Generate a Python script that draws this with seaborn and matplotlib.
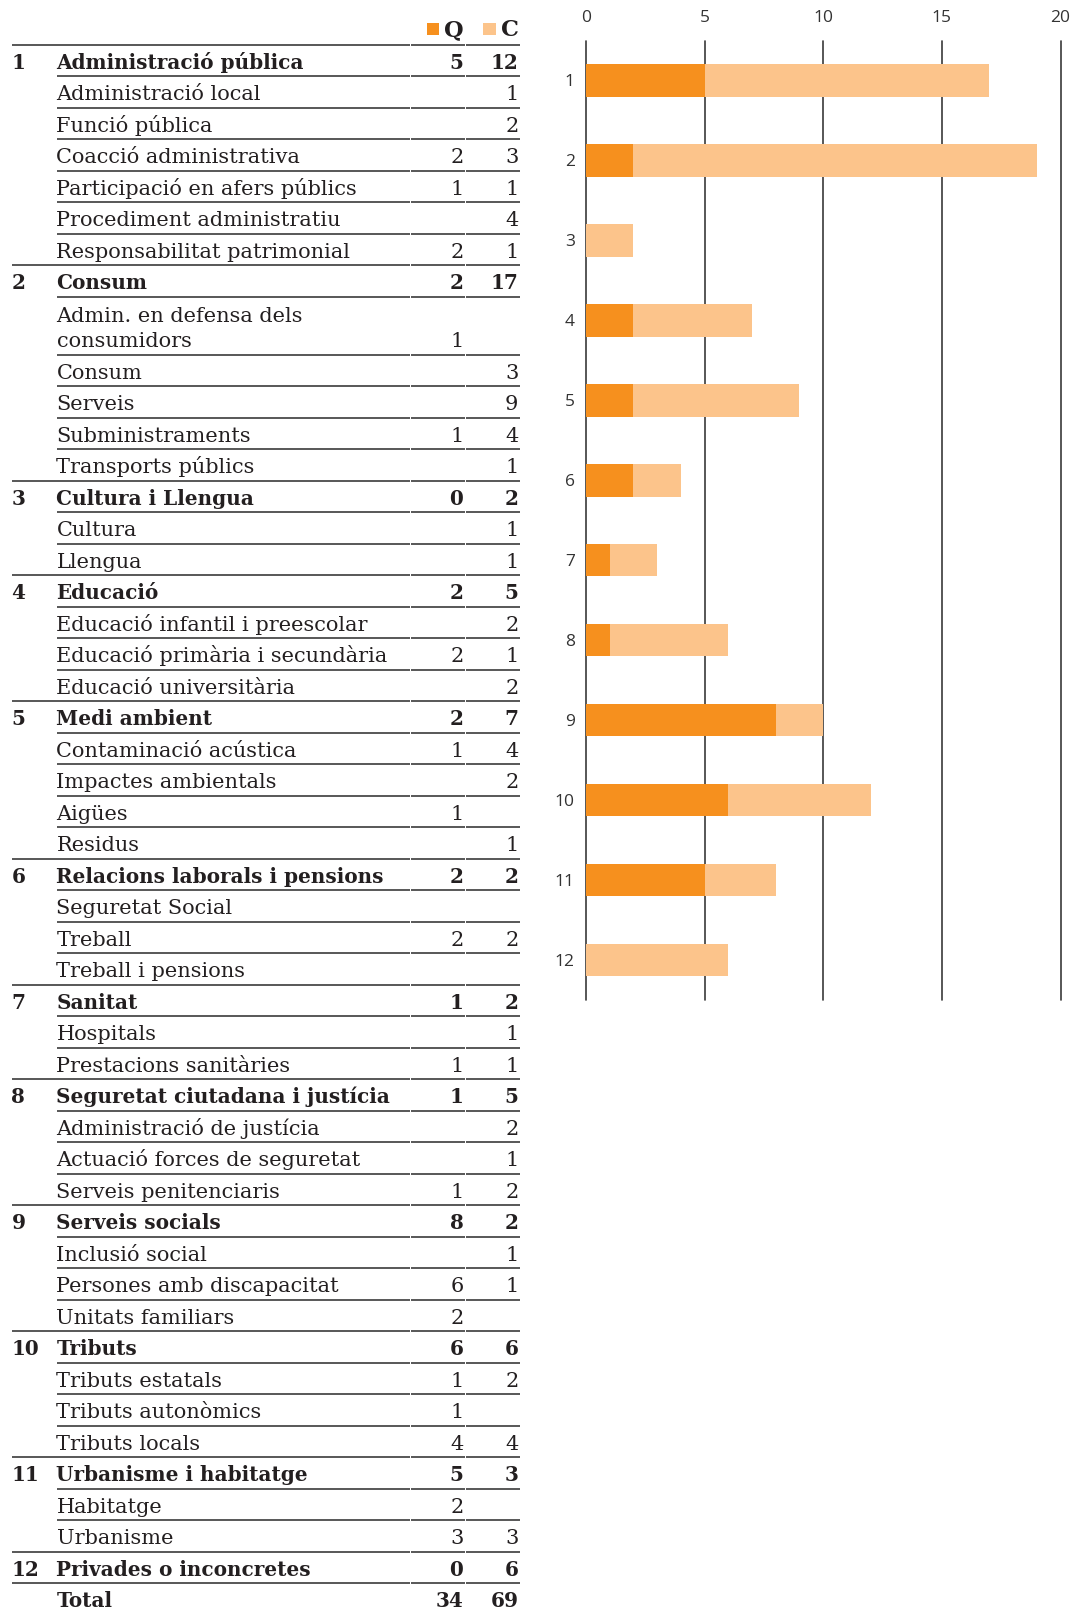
import matplotlib
matplotlib.use("Agg")
import matplotlib.pyplot as plt
from matplotlib.patches import Rectangle
import seaborn as sns
import pandas as pd

# ---- chart data: complaints (Q) and consultations (C) per subject group ----
categories = [str(i) for i in range(1, 13)]
q_vals = [5, 2, 0, 2, 2, 2, 1, 1, 8, 6, 5, 0]
c_vals = [12, 17, 2, 5, 7, 2, 2, 5, 2, 6, 3, 6]
x_ticks = [0, 5, 10, 15, 20]

# ---- table data ----
group_labels = [
    "Administració pública", "Consum", "Cultura i Llengua", "Educació",
    "Medi ambient", "Relacions laborals i pensions", "Sanitat",
    "Seguretat ciutadana i justícia", "Serveis socials", "Tributs",
    "Urbanisme i habitatge", "Privades o inconcretes",
]
sub_labels = [
    ["Administració local", "Funció pública", "Coacció administrativa",
     "Participació en afers públics", "Procediment administratiu",
     "Responsabilitat patrimonial"],
    ["Admin. en defensa dels\nconsumidors", "Consum", "Serveis",
     "Subministraments", "Transports públics"],
    ["Cultura", "Llengua"],
    ["Educació infantil i preescolar", "Educació primària i secundària",
     "Educació universitària"],
    ["Contaminació acústica", "Impactes ambientals", "Aigües", "Residus"],
    ["Seguretat Social", "Treball", "Treball i pensions"],
    ["Hospitals", "Prestacions sanitàries"],
    ["Administració de justícia", "Actuació forces de seguretat",
     "Serveis penitenciaris"],
    ["Inclusió social", "Persones amb discapacitat", "Unitats familiars"],
    ["Tributs estatals", "Tributs autonòmics", "Tributs locals"],
    ["Habitatge", "Urbanisme"],
    [],
]
sub_q = [
    [None, None, 2, 1, None, 2],
    [1, None, None, 1, None],
    [None, None],
    [None, 2, None],
    [1, None, 1, None],
    [None, 2, None],
    [None, 1],
    [None, None, 1],
    [None, 6, 2],
    [1, 1, 4],
    [2, 3],
    [],
]
sub_c = [
    [1, 2, 3, 1, 4, 1],
    [None, 3, 9, 4, 1],
    [1, 1],
    [2, 1, 2],
    [4, 2, None, 1],
    [None, 2, None],
    [1, 1],
    [2, 1, 2],
    [1, 1, None],
    [2, None, 4],
    [None, 3],
    [],
]
total_label = "Total"
legend_labels = ["Q", "C"]

# ---- styling ----
Q_COLOR = "#F6901E"
C_COLOR = "#FCC48B"
TEXT = "#231F20"
RULE = "#4a4a4a"
SERIF = "DejaVu Serif"

W, H = 1074, 1612
sns.set_style("white")
plt.rcParams["font.family"] = ["Open Sans", "DejaVu Sans"]

fig = plt.figure(figsize=(W / 100, H / 100), dpi=100)

# ---------------------------------------------------------------- table
tab = fig.add_axes([0, 0, 1, 1])
tab.set_xlim(0, W)
tab.set_ylim(H, 0)
tab.axis("off")

renderer = fig.canvas.get_renderer()


def text_width(s, size, weight):
    t = tab.text(0, 0, s, fontsize=size, fontweight=weight, family=SERIF)
    w = t.get_window_extent(renderer).width
    t.remove()
    return w


reg_size = 10 * 206 / text_width("Administració local", 10, "normal")
bold_size = 10 * 334 / text_width("Seguretat ciutadana i justícia", 10, "bold")

TOP = 44.9
PITCH = 31.5
TWO_LINE_TRIM = 5.0
X_NUM, X_LABEL = 11.5, 56.5
X_Q, X_C = 463.5, 518.5
CELLS = [(None, 409.5), (410.8, 464.8), (466.1, 520.0)]
BASE_OFF = 7.8
LINE_GAP = 25.5

# build row list
rows = []
for i, g in enumerate(group_labels):
    rows.append(dict(kind="group", num=str(i + 1), label=g,
                     q=q_vals[i], c=c_vals[i]))
    for lab, q, c in zip(sub_labels[i], sub_q[i], sub_c[i]):
        rows.append(dict(kind="sub", num="", label=lab, q=q, c=c))
rows.append(dict(kind="total", num="", label=total_label,
                 q=sum(q_vals), c=sum(c_vals)))

top = TOP
first = True
for r in rows:
    lines = r["label"].split("\n")
    n = len(lines)
    height = n * PITCH - (TWO_LINE_TRIM if n > 1 else 0.0)
    bottom = top + height
    base = bottom - BASE_OFF
    bold = r["kind"] in ("group", "total")
    size = bold_size if bold else reg_size
    weight = "bold" if bold else "normal"

    # rule above the row
    x0 = X_NUM if (bold or first) else X_LABEL
    for a, b in CELLS:
        tab.plot([x0 if a is None else a, b], [top, top], color=RULE,
                 lw=1.3, solid_capstyle="butt")

    if r["num"]:
        tab.text(X_NUM, base, r["num"], fontsize=bold_size, fontweight="bold",
                 family=SERIF, color=TEXT, va="baseline", ha="left")
    for j, ln in enumerate(lines):
        tab.text(X_LABEL, base - (n - 1 - j) * LINE_GAP, ln, fontsize=size,
                 fontweight=weight, family=SERIF, color=TEXT,
                 va="baseline", ha="left")
    if r["q"] is not None:
        tab.text(X_Q, base, str(r["q"]), fontsize=size, fontweight=weight,
                 family=SERIF, color=TEXT, va="baseline", ha="right")
    if r["c"] is not None:
        tab.text(X_C, base, str(r["c"]), fontsize=size, fontweight=weight,
                 family=SERIF, color=TEXT, va="baseline", ha="right")
    top = bottom
    first = False

# legend above the number columns
for (sx, tx), lab, col in zip([(426.5, X_Q), (483.0, X_C)], legend_labels,
                              [Q_COLOR, C_COLOR]):
    tab.add_patch(Rectangle((sx, 23.3), 12.5, 12.0, color=col, lw=0))
    tab.text(tx, 36.0, lab, fontsize=bold_size * 1.12, fontweight="bold",
             family=SERIF, color=TEXT, va="baseline", ha="right")

# ---------------------------------------------------------------- bars
ax = fig.add_axes([585.8 / W, 1 - 1000 / H, 474.8 / W, 959 / H])
df = pd.DataFrame({"grup": categories, "Q": q_vals, "C": c_vals})
df["total"] = df["Q"] + df["C"]

sns.barplot(data=df, y="grup", x="total", color=C_COLOR, saturation=1,
            width=0.41, linewidth=0, errorbar=None, orient="h", ax=ax)
sns.barplot(data=df, y="grup", x="Q", color=Q_COLOR, saturation=1,
            width=0.41, linewidth=0, errorbar=None, orient="h", ax=ax)

ax.set_xlim(0, 20)
ax.set_ylim(11.5, -0.49)
ax.set_xticks(x_ticks)
ax.xaxis.tick_top()
ax.set_xlabel("")
ax.set_ylabel("")
ax.grid(axis="x", color="#3a3a3a", lw=1.2)
ax.grid(axis="y", visible=False)
ax.set_axisbelow(True)
for gl in ax.get_xgridlines():
    gl.set_clip_on(False)
for s in ax.spines.values():
    s.set_visible(False)
ax.tick_params(axis="both", length=0, labelsize=12.5, labelcolor="#333333")
ax.tick_params(axis="x", pad=10.5)
ax.tick_params(axis="y", pad=8)
ax.set_facecolor("none")

fig.savefig("out.png", dpi=100)
